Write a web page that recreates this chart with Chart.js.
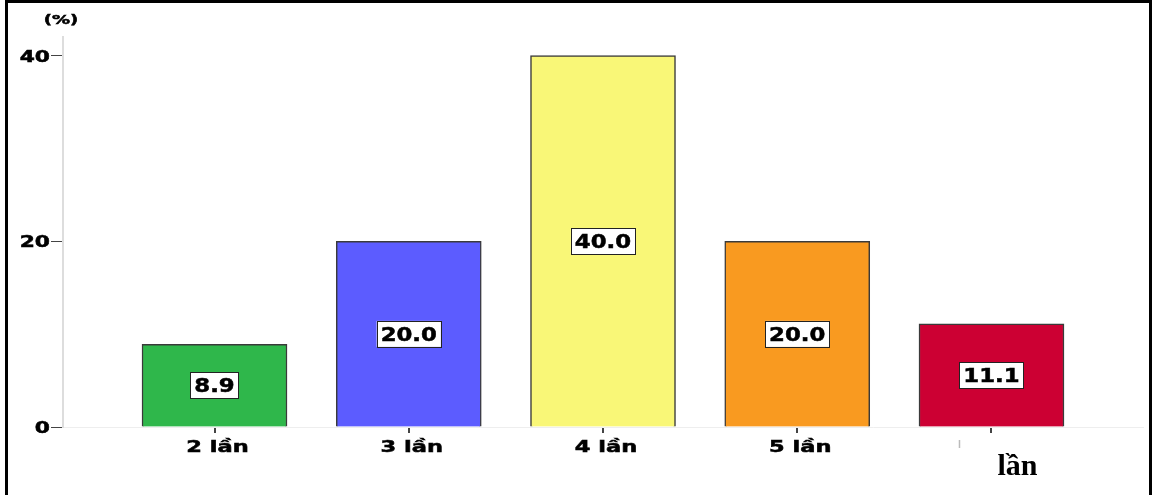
<!DOCTYPE html>
<html>
<head>
<meta charset="utf-8">
<script src="https://cdn.jsdelivr.net/npm/chart.js@4/dist/chart.umd.min.js"></script>
<style>
  html, body { margin: 0; padding: 0; background: #fff; }
  #wrap { position: relative; width: 1152px; height: 495px; overflow: hidden; }
  #chart { position: absolute; left: 0; top: 0; }
  #frame {
    position: absolute; left: 5px; top: 0; width: 1141px; height: 495px;
    border-left: 3px solid #000; border-top: 3px solid #000; border-right: 3px solid #000;
    pointer-events: none;
  }
</style>
</head>
<body>
<div id="wrap">
  <canvas id="chart" width="1152" height="495"></canvas>
  <div id="frame"></div>
</div>
<script>
  // data
  var categories = ['2 lần', '3 lần', '4 lần', '5 lần', 'lần'];
  var percents = [8.9, 20.0, 40.0, 20.0, 11.1];
  var yTicks = [0, 20, 40];
  var barColors = ['#2fb74b', '#5c5cff', '#f9f777', '#f99a20', '#cc0033'];

  var AXIS_FONT = 'bold 15px "DejaVu Sans"';

  // text drawn wider than the font, like the stretched source image
  function stretchText(ctx, text, x, y, font, sx, align, heavy) {
    ctx.save();
    ctx.font = font;
    ctx.textAlign = align || 'center';
    ctx.textBaseline = 'alphabetic';
    ctx.fillStyle = '#000';
    ctx.translate(x, y);
    ctx.scale(sx, 1);
    ctx.fillText(text, 0, 0);
    if (heavy) {
      ctx.strokeStyle = '#000';
      ctx.lineWidth = 0.5;
      ctx.strokeText(text, 0, 0);
    }
    ctx.restore();
  }

  var textPlugin = {
    id: 'texts',
    afterDraw: function (chart) {
      var ctx = chart.ctx;
      var xs = chart.scales.x, ys = chart.scales.y;
      var area = chart.chartArea;

      yTicks.forEach(function (v) {
        stretchText(ctx, String(v), area.left - 13, ys.getPixelForValue(v) + 6, AXIS_FONT, 1.45, 'right', true);
      });
      stretchText(ctx, '(%)', area.left - 2, 24, 'bold 12px "DejaVu Sans"', 1.5, 'center', true);

      categories.forEach(function (c, i) {
        var px = xs.getPixelForValue(i);
        if (i === categories.length - 1) {
          // odd last label in the source picture
          stretchText(ctx, c, px + 26, 475, 'bold 30px "Liberation Serif"', 1, 'center');
          ctx.save();
          ctx.strokeStyle = '#bbb';
          ctx.lineWidth = 1.5;
          ctx.beginPath();
          ctx.moveTo(px - 32, 440);
          ctx.lineTo(px - 32, 448);
          ctx.stroke();
          ctx.restore();
        } else {
          stretchText(ctx, c, px + 3, 452, AXIS_FONT, 1.5, 'center', true);
        }
      });

      var meta = chart.getDatasetMeta(0);
      meta.data.forEach(function (bar, i) {
        var label = percents[i].toFixed(1);
        var cy = (bar.y + bar.base) / 2;
        var font = 'bold 19px "DejaVu Sans"';
        ctx.save();
        ctx.font = font;
        var w = ctx.measureText(label).width * 1.2 + 8;
        var h = 26;
        ctx.fillStyle = '#fff';
        ctx.fillRect(bar.x - w / 2, cy - h / 2, w, h);
        ctx.strokeStyle = '#222';
        ctx.lineWidth = 1;
        ctx.strokeRect(Math.round(bar.x - w / 2) + 0.5, Math.round(cy - h / 2) + 0.5, Math.round(w), h);
        ctx.restore();
        stretchText(ctx, label, bar.x, cy + 7, font, 1.2, 'center', true);
      });
    }
  };

  var points = percents.map(function (v, i) { return { x: i, y: v }; });

  new Chart(document.getElementById('chart'), {
    type: 'bar',
    data: {
      datasets: [{
        data: points,
        backgroundColor: barColors,
        borderColor: '#3a3a3a',
        borderWidth: 1.5,
        borderSkipped: 'bottom',
        barThickness: 145
      }]
    },
    options: {
      responsive: false,
      animation: false,
      layout: { padding: { top: 37, right: 9, left: 0, bottom: 0 } },
      plugins: { legend: { display: false }, tooltip: { enabled: false } },
      scales: {
        x: {
          type: 'linear',
          offset: false,
          min: -0.78,
          max: 4.78,
          afterBuildTicks: function (scale) {
            scale.ticks = categories.map(function (c, i) { return { value: i }; });
          },
          afterFit: function (scale) { scale.height = 68; },
          ticks: { display: false },
          grid: { offset: false, drawOnChartArea: false, drawTicks: true, tickLength: 6, tickColor: '#444', lineWidth: 2 },
          border: { display: true, color: '#eeeeee', width: 1 }
        },
        y: {
          min: 0,
          max: 42,
          afterBuildTicks: function (scale) {
            scale.ticks = yTicks.map(function (v) { return { value: v }; });
          },
          afterFit: function (scale) { scale.width = 63; },
          ticks: { display: false },
          grid: { drawOnChartArea: false, drawTicks: true, tickLength: 12, tickColor: '#444', lineWidth: 1 },
          border: { display: true, color: '#dddddd', width: 2 }
        }
      }
    },
    plugins: [textPlugin]
  });
</script>
</body>
</html>
